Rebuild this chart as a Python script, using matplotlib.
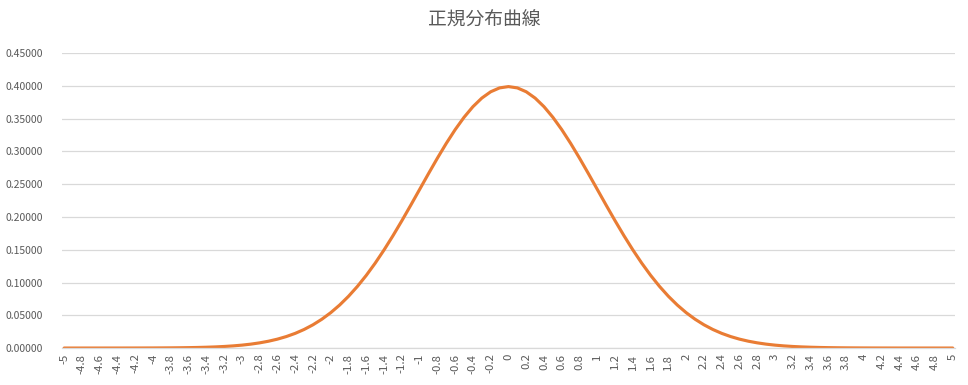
import numpy as np
import matplotlib.pyplot as plt

plt.rcParams['font.family'] = ['Noto Sans CJK JP', 'DejaVu Sans']

# --- DATA --- #
title = '正規分布曲線'
# categories -5.0 .. 5.0 in steps of 0.1
categories = [i / 10 for i in range(-50, 51)]
# right half of the curve (x = 0.0 .. 5.0)
half_values = [
    0.39894, 0.39695, 0.39104, 0.38139, 0.36827, 0.35207, 0.33322, 0.31225,
    0.28969, 0.26609, 0.24197, 0.21785, 0.19419, 0.17137, 0.14973, 0.12952,
    0.11092, 0.09405, 0.07895, 0.06562, 0.05399, 0.04398, 0.03547, 0.02833,
    0.02239, 0.01753, 0.01358, 0.01042, 0.00792, 0.00595, 0.00443, 0.00327,
    0.00238, 0.00172, 0.00123, 0.00087, 0.00061, 0.00042, 0.00029, 0.00020,
    0.00013, 0.00009, 0.00006, 0.00004, 0.00002, 0.00002, 0.00001, 0.00001,
    0.00000, 0.00000, 0.00000,
]
values = half_values[:0:-1] + half_values
y_ticks = [0.0, 0.05, 0.10, 0.15, 0.20, 0.25, 0.30, 0.35, 0.40, 0.45]

# --- PLOT --- #
fig = plt.figure(figsize=(9.68, 3.85), dpi=100)
ax = fig.add_axes([0.064, 0.096, 0.923, 0.766])

ind = np.arange(len(categories))
ax.plot(ind, values, color='#E97C34', linewidth=2.25, solid_capstyle='round')

ax.set_xlim(-0.25, 100.3)
ax.set_ylim(0, 0.45)
ax.set_yticks(y_ticks)
ax.set_yticklabels(['{:.5f}'.format(v) for v in y_ticks])
ax.set_xticks(ind[::2])
ax.set_xticklabels(['{:g}'.format(c) for c in categories[::2]], rotation=90)

ax.grid(True, axis='y', color='#D9D9D9', linewidth=0.9)
ax.set_axisbelow(True)
for s in ['top', 'right', 'left']:
    ax.spines[s].set_visible(False)
ax.spines['bottom'].set_color('#D9D9D9')
ax.spines['bottom'].set_linewidth(0.9)
ax.tick_params(axis='both', length=0, colors='#595959', labelsize=7.5)
ax.tick_params(axis='x', labelsize=8.2, pad=4)
ax.tick_params(axis='y', pad=14)

fig.suptitle(title, x=0.5, y=0.975, fontsize=13.5, color='#595959')

fig.savefig('out.png', dpi=100)
